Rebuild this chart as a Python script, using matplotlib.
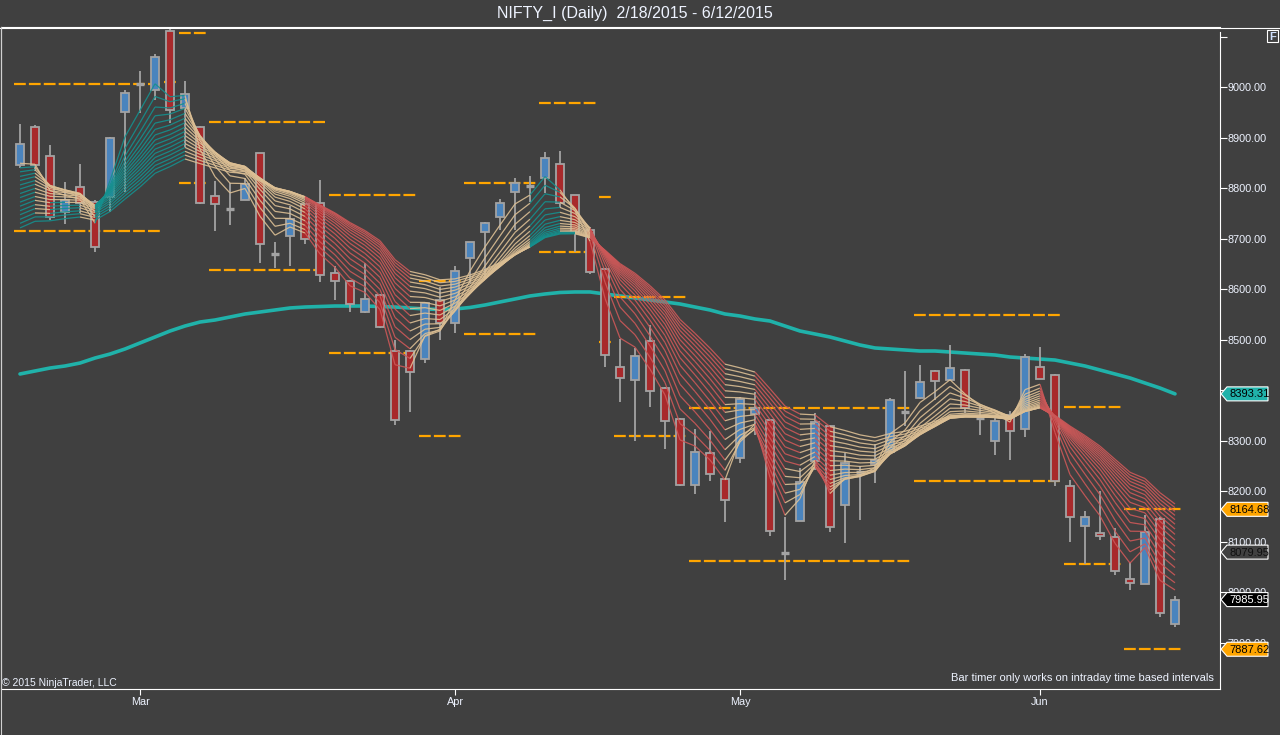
import numpy as np
import matplotlib
matplotlib.use('Agg')
import matplotlib.pyplot as plt
from matplotlib.patches import Rectangle, Polygon
from matplotlib.collections import LineCollection

plt.rcParams['font.family'] = ['Liberation Sans', 'DejaVu Sans']

# daily bars 2/18/2015 - 6/12/2015
opens = [8846, 8922, 8864, 8754, 8803, 8773, 8783, 8952, 9007, 8995,
         9112, 8959, 8922, 8785, 8759, 8777, 8870, 8670, 8706, 8769,
         8771, 8633, 8617, 8556, 8589, 8478, 8478, 8462, 8579, 8534,
         8662, 8714, 8744, 8793, 8805, 8821, 8849, 8787, 8718, 8641,
         8447, 8421, 8498, 8405, 8344, 8213, 8276, 8225, 8266, 8354,
         8342, 8078, 8142, 8260, 8330, 8173, 8239, 8254, 8278, 8357,
         8385, 8439, 8421, 8441, 8346, 8300, 8352, 8324, 8447, 8431,
         8211, 8132, 8118, 8110, 8027, 8017, 8146, 7938]
highs = [8928, 8925, 8886, 8813, 8849, 8777, 8902, 8995, 9033, 9066,
         9115, 9013, 8923, 8815, 8811, 8821, 8871, 8694, 8765, 8770,
         8817, 8647, 8618, 8653, 8590, 8500, 8480, 8574, 8605, 8647,
         8695, 8733, 8779, 8821, 8825, 8872, 8874, 8788, 8724, 8642,
         8502, 8484, 8530, 8406, 8345, 8324, 8320, 8226, 8387, 8397,
         8343, 8150, 8247, 8355, 8331, 8276, 8251, 8294, 8385, 8439,
         8451, 8440, 8490, 8442, 8371, 8346, 8359, 8472, 8486, 8433,
         8223, 8161, 8201, 8128, 8060, 8154, 8150, 7993]
lows = [8840, 8834, 8738, 8730, 8752, 8674, 8754, 8793, 8950, 8975,
        8930, 8882, 8770, 8716, 8728, 8777, 8653, 8643, 8647, 8690,
        8615, 8579, 8556, 8554, 8524, 8332, 8357, 8455, 8500, 8514,
        8613, 8623, 8718, 8718, 8773, 8791, 8761, 8674, 8631, 8447,
        8377, 8300, 8367, 8284, 8211, 8195, 8221, 8140, 8256, 8312,
        8112, 8025, 8141, 8243, 8120, 8098, 8144, 8217, 8277, 8330,
        8384, 8381, 8420, 8355, 8312, 8272, 8262, 8308, 8422, 8211,
        8100, 8056, 8104, 8035, 8005, 8016, 7952, 7932]
closes = [8888, 8846, 8744, 8777, 8771, 8684, 8900, 8989, 9007, 9060,
          8956, 8987, 8771, 8769, 8759, 8809, 8690, 8670, 8740, 8700,
          8629, 8617, 8571, 8581, 8526, 8342, 8437, 8573, 8534, 8637,
          8694, 8732, 8771, 8811, 8805, 8860, 8771, 8714, 8635, 8470,
          8425, 8468, 8399, 8340, 8213, 8278, 8235, 8183, 8383, 8365,
          8122, 8078, 8219, 8338, 8130, 8256, 8239, 8262, 8381, 8357,
          8417, 8419, 8445, 8365, 8346, 8340, 8320, 8466, 8423, 8221,
          8150, 8150, 8112, 8043, 8019, 8120, 7959, 7985.95]

# slow moving average (teal line)
sma = [8432.7, 8438.6, 8444.5, 8448.5, 8454.4, 8464.3, 8472.2, 8482.2, 8494.1, 8505.9,
       8517.8, 8527.7, 8535.6, 8539.6, 8545.5, 8551.5, 8555.4, 8559.4, 8563.4, 8565.3,
       8566.3, 8567.3, 8567.3, 8567.3, 8566.3, 8565.3, 8563.4, 8561.4, 8560.4, 8561.4,
       8564.4, 8569.3, 8575.3, 8581.2, 8587.2, 8591.1, 8594.1, 8595.1, 8595.1, 8591.1,
       8587.2, 8583.2, 8579.2, 8575.3, 8571.3, 8565.3, 8559.4, 8551.5, 8547.5, 8541.6,
       8537.6, 8527.7, 8517.8, 8511.9, 8505.9, 8498.0, 8490.1, 8484.2, 8482.2, 8480.2,
       8478.2, 8478.2, 8476.2, 8474.2, 8472.2, 8470.3, 8466.3, 8464.3, 8462.3, 8460.3,
       8454.4, 8448.5, 8440.6, 8432.7, 8424.8, 8414.8, 8404.9, 8393.31]

# moving average ribbon: periods and their values on the first bar
ribbon_periods = list(range(3, 19))
ribbon_start = [8850, 8841, 8833, 8824, 8816, 8807, 8799, 8790,
                8782, 8773, 8765, 8756, 8748, 8739, 8731, 8722]
# ribbon colour state per bar: g=teal, t=tan, r=red, m=teal/tan, x=tan/red
ribbon_state = ('-' + 'm' * 5 + 'g' * 6 + 't' * 8 + 'r' * 7 + 't' * 8 + 'g' * 2 + 'm' * 2
                + 'r' * 9 + 't' * 2 + 'r' * 2 + 'x' + 't' + 'x' * 2 + 't' * 13 + 'r' * 9)

# orange high / low levels: first bar, last bar, high, low
lvl_first = [0, 10, 11, 13, 21, 27, 30, 35, 39, 40, 45, 60, 70, 74]
lvl_last = [9, 10, 12, 20, 26, 29, 34, 38, 39, 44, 59, 69, 73, 77]
lvl_high = [9007, 9011, 9108, 8932, 8787, 8617, 8811, 8969, 8784, 8586, 8365, 8550, 8367, 8164.68]
lvl_low = [8716, None, 8811, 8639, 8474, 8310, 8512, 8674, 8496, 8309, 8063, 8221, 8057, 7887.62]

other_tag = 8079.95

# price labels hidden in the reference (under the top edge / behind a tag)
hidden_labels = [9100, 8400]

month_pos = [8, 29, 48, 68]
month_lbl = ['Mar', 'Apr', 'May', 'Jun']

W, H = 1280, 735
BG = '#404040'
TXT = '#eef3ff'
WICK = '#a3a3a3'
UP = '#4a84bd'
DN = '#a8292b'

fig = plt.figure(figsize=(W / 100, H / 100), dpi=100, facecolor=BG)
ax = fig.add_axes([1 / W, 46 / H, 1218.5 / W, 662 / H], facecolor=BG)
ax.set_xlim(-1.267, 79.967)
ax.set_ylim(7808.9, 9119.8)

n = len(closes)
idx = np.arange(n)

# candles
bw = 0.56
for i in idx:
    o, h, l, c = opens[i], highs[i], lows[i], closes[i]
    ax.vlines(i, l, h, color=WICK, lw=1.3, zorder=3)
    if abs(c - o) < 1:
        ax.hlines(o, i - bw / 2, i + bw / 2, color=WICK, lw=2.4, zorder=4)
    else:
        ax.add_patch(Rectangle((i - bw / 2, min(o, c)), bw, abs(c - o),
                               fc=UP if c > o else DN, ec=WICK, lw=1.3, zorder=4))

# teal average
ax.plot(idx, sma, color='#20b2aa', lw=2.6, zorder=2, solid_capstyle='round')

# orange levels
for a, b, hi, lo in zip(lvl_first, lvl_last, lvl_high, lvl_low):
    for v in (hi, lo):
        if v is None:
            continue
        ax.plot([a - 0.4, b + 0.47], [v, v], color='#ffa500', lw=1.6,
                ls=(0, (5.3, 1.4)), dash_capstyle='butt', zorder=2.5)

# ribbon
cl = np.array(closes, dtype=float)
segs, cols = [], []
col_map = {'g': '#15908e', 't': '#dcbf94', 'r': '#cc5858'}
for k, p in enumerate(ribbon_periods):
    alpha = 2.0 / (p + 1)
    v = np.empty(n)
    v[0] = ribbon_start[k]
    for t in range(1, n):
        v[t] = v[t - 1] + alpha * (cl[t] - v[t - 1])
    for j in range(1, n):
        s = ribbon_state[j]
        slope = v[j] - v[j - 1]
        if s == 'm':
            s = 'g' if slope > 0 else 't'
        elif s == 'x':
            s = 'r' if slope < -8 else 't'
        segs.append([(j - 1, v[j - 1]), (j, v[j])])
        cols.append(col_map[s])
ax.add_collection(LineCollection(segs, colors=cols, linewidths=0.9, alpha=0.9, zorder=5))

# axes styling
for side in ('top', 'left', 'bottom'):
    ax.spines[side].set_color('white')
    ax.spines[side].set_linewidth(0.8)
ax.spines['right'].set_visible(False)
ax.yaxis.tick_right()
yt = list(range(7900, 9101, 100))
ax.set_yticks(yt)
ax.set_yticklabels(['' if v in hidden_labels else f'{v:.2f}' for v in yt])
ax.tick_params(axis='y', direction='out', length=5, width=0.8, color='white',
               labelcolor=TXT, labelsize=7.8, pad=1)
ax.set_xticks(month_pos)
ax.set_xticklabels(month_lbl)
ax.tick_params(axis='x', direction='out', length=4, width=0.8, color='white',
               labelcolor=TXT, labelsize=7.8, pad=2)

# overlay in pixel coordinates
ov = fig.add_axes([0, 0, 1, 1], zorder=10)
ov.set_xlim(0, W)
ov.set_ylim(H, 0)
ov.axis('off')
ov.patch.set_alpha(0)

ov.plot([0, W], [27.5, 27.5], color='white', lw=0.8)
ov.plot([1219.5, 1219.5], [32, 689], color='white', lw=0.8)
ov.plot([0.5, 0.5], [27, H], color='#d0d0d0', lw=0.8)

ov.text(635, 13, 'NIFTY_I (Daily)  2/18/2015 - 6/12/2015', ha='center', va='center',
        fontsize=11.5, color=TXT)
ov.text(2, 683, '\u00a9 2015 NinjaTrader, LLC', ha='left', va='center', fontsize=7.5, color=TXT)
ov.text(1214, 678, 'Bar timer only works on intraday time based intervals', ha='right',
        va='center', fontsize=8, color=TXT)

ov.add_patch(Rectangle((1267, 30), 11, 12, fc=BG, ec='white', lw=0.8))
ov.text(1272.5, 36.5, 'F', ha='center', va='center', fontsize=8, color='#cfe0ff', fontweight='bold')


def price_to_py(p):
    return H - ax.transData.transform((0, p))[1]


def tag(price, fc, tc):
    y = price_to_py(price)
    pts = [(1221, y), (1227, y - 7), (1268, y - 7), (1268, y + 7), (1227, y + 7)]
    ov.add_patch(Polygon(pts, closed=True, fc=fc, ec='white', lw=0.8))
    ov.text(1229, y + 0.5, f'{price:.2f}', color=tc, fontsize=8, va='center', ha='left')


tag(sma[-1], '#20b2aa', 'black')
tag(lvl_high[-1], '#ffa500', 'black')
tag(other_tag, BG, '#101010')
tag(closes[-1], 'black', 'white')
tag(lvl_low[-1], '#ffa500', 'black')

fig.savefig('out.png', dpi=100, facecolor=BG)
